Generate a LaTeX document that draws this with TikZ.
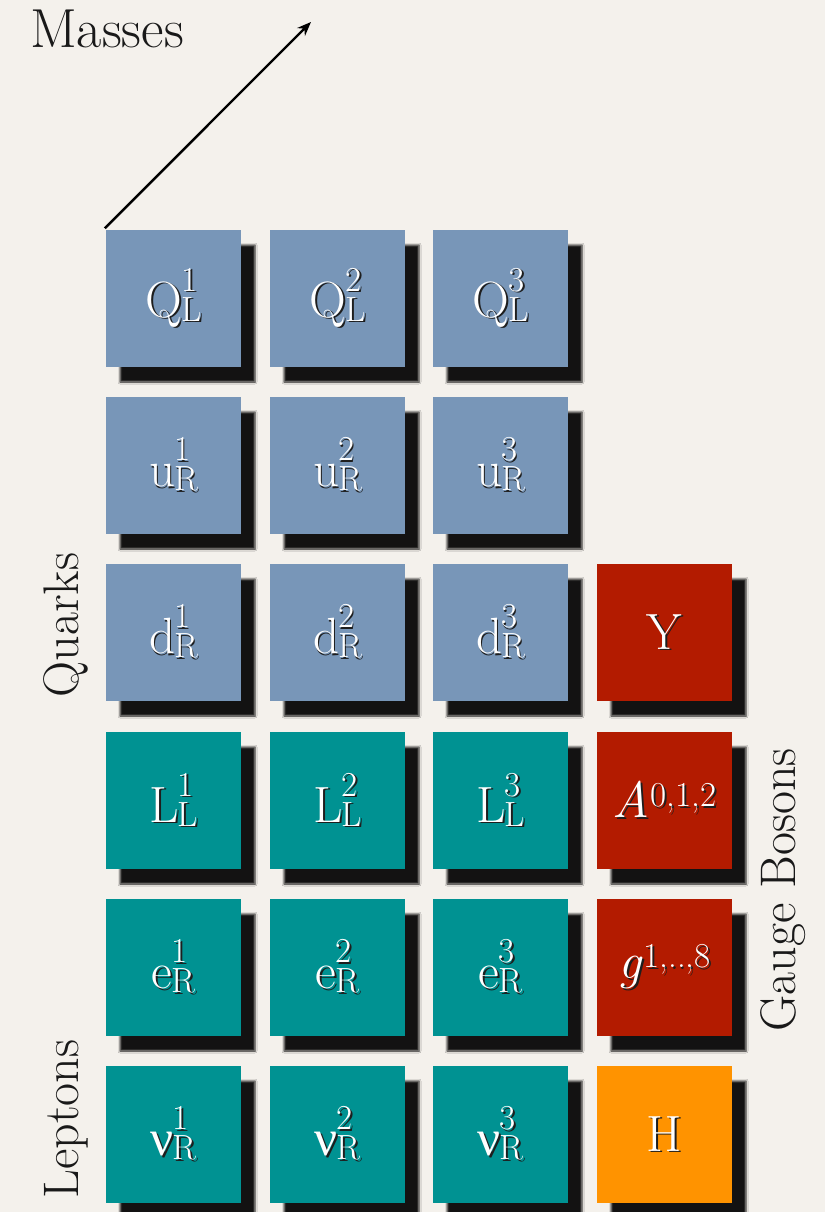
\documentclass[tikz,border=0pt]{standalone}
\usepackage{fontspec}
\newfontfamily\grk{Liberation Serif}
\usetikzlibrary{arrows.meta,shadows.blur}
\definecolor{bg}{HTML}{F4F1EC}
\definecolor{qblue}{HTML}{7896B8}
\definecolor{lteal}{HTML}{009292}
\definecolor{gred}{HTML}{B31B00}
\definecolor{horange}{HTML}{FF9300}
\definecolor{txtshadow}{HTML}{1E1E1E}
\newcommand\mainsz{\fontsize{51}{56}\selectfont}
\newcommand\scrsz{\fontsize{35}{38}\selectfont}
\newcommand\lb[3]{#1\kern-1pt\rlap{\raisebox{26pt}{\scrsz #2}}\raisebox{-4pt}{\scrsz #3}}
\newcommand\lbs[2]{#1\kern1pt\raisebox{11pt}{\scrsz #2}}
\newcommand\shtxt[1]{\makebox[0pt][l]{\kern1.8pt\raisebox{-1.8pt}{\color{txtshadow}#1}}#1}
\newcommand\cell[5]{%
  \node[cellbox, fill=#4] (#1) at (#2,#3) {};
  \node[lbl] (#1t) at (#1.center) {\shtxt{#5}};
}
\begin{document}
\begin{tikzpicture}[x=1pt,y=-1pt,
  cellbox/.style={minimum width=135pt, minimum height=137pt, inner sep=0pt, draw=none,
    blur shadow={shadow xshift=14pt, shadow yshift=-15pt, shadow blur radius=2pt, shadow opacity=92}},
  lbl/.style={inner sep=0pt, text=white, font=\mainsz},
  side/.style={inner sep=0pt, text=black!90, font=\fontsize{50}{56}\selectfont},
  arr/.style={line width=2.4pt, -{Stealth[length=14pt,width=11pt]}}
]
\useasboundingbox (0,0) rectangle (825,1212);
\fill[bg] (0,0) rectangle (825,1212);

% quarks
\cell{q1}{173.5}{298.5}{qblue}{\lb{Q}{1}{L}}
\cell{q2}{337.5}{298.5}{qblue}{\lb{Q}{2}{L}}
\cell{q3}{500.5}{298.5}{qblue}{\lb{Q}{3}{L}}
\cell{u1}{173.5}{465.5}{qblue}{\lb{u}{1}{R}}
\cell{u2}{337.5}{465.5}{qblue}{\lb{u}{2}{R}}
\cell{u3}{500.5}{465.5}{qblue}{\lb{u}{3}{R}}
\cell{d1}{173.5}{632.5}{qblue}{\lb{d}{1}{R}}
\cell{d2}{337.5}{632.5}{qblue}{\lb{d}{2}{R}}
\cell{d3}{500.5}{632.5}{qblue}{\lb{d}{3}{R}}
% leptons
\cell{l1}{173.5}{800.5}{lteal}{\lb{L}{1}{L}}
\cell{l2}{337.5}{800.5}{lteal}{\lb{L}{2}{L}}
\cell{l3}{500.5}{800.5}{lteal}{\lb{L}{3}{L}}
\cell{e1}{173.5}{967.5}{lteal}{\lb{e}{1}{R}}
\cell{e2}{337.5}{967.5}{lteal}{\lb{e}{2}{R}}
\cell{e3}{500.5}{967.5}{lteal}{\lb{e}{3}{R}}
\cell{n1}{173.5}{1134.5}{lteal}{\lb{{\grk ν}}{1}{R}}
\cell{n2}{337.5}{1134.5}{lteal}{\lb{{\grk ν}}{2}{R}}
\cell{n3}{500.5}{1134.5}{lteal}{\lb{{\grk ν}}{3}{R}}
% bosons
\cell{by}{664.5}{632.5}{gred}{Y}
\cell{ba}{664.5}{800.5}{gred}{\lbs{\textit{A}}{0,1,2}}
\cell{bg}{664.5}{967.5}{gred}{\lbs{\textit{g}}{1,..,8}}
\cell{bh}{664.5}{1134.5}{horange}{H}

% side labels
\node[side, anchor=base west] (masses) at (30,48) {\fontsize{55}{60}\selectfont Masses};
\node[side, rotate=90, anchor=base] (quarks) at (78,625) {Quarks};
\node[side, rotate=90, anchor=base] (leptons) at (78,1119) {Leptons};
\node[side, rotate=90, anchor=base] (gauge) at (795,890) {Gauge Bosons};

% arrow
\coordinate (tip) at (311,22);
\draw[arr] ([shift={(-1pt,1.5pt)}]q1.north west) -- (tip);
\end{tikzpicture}
\end{document}
